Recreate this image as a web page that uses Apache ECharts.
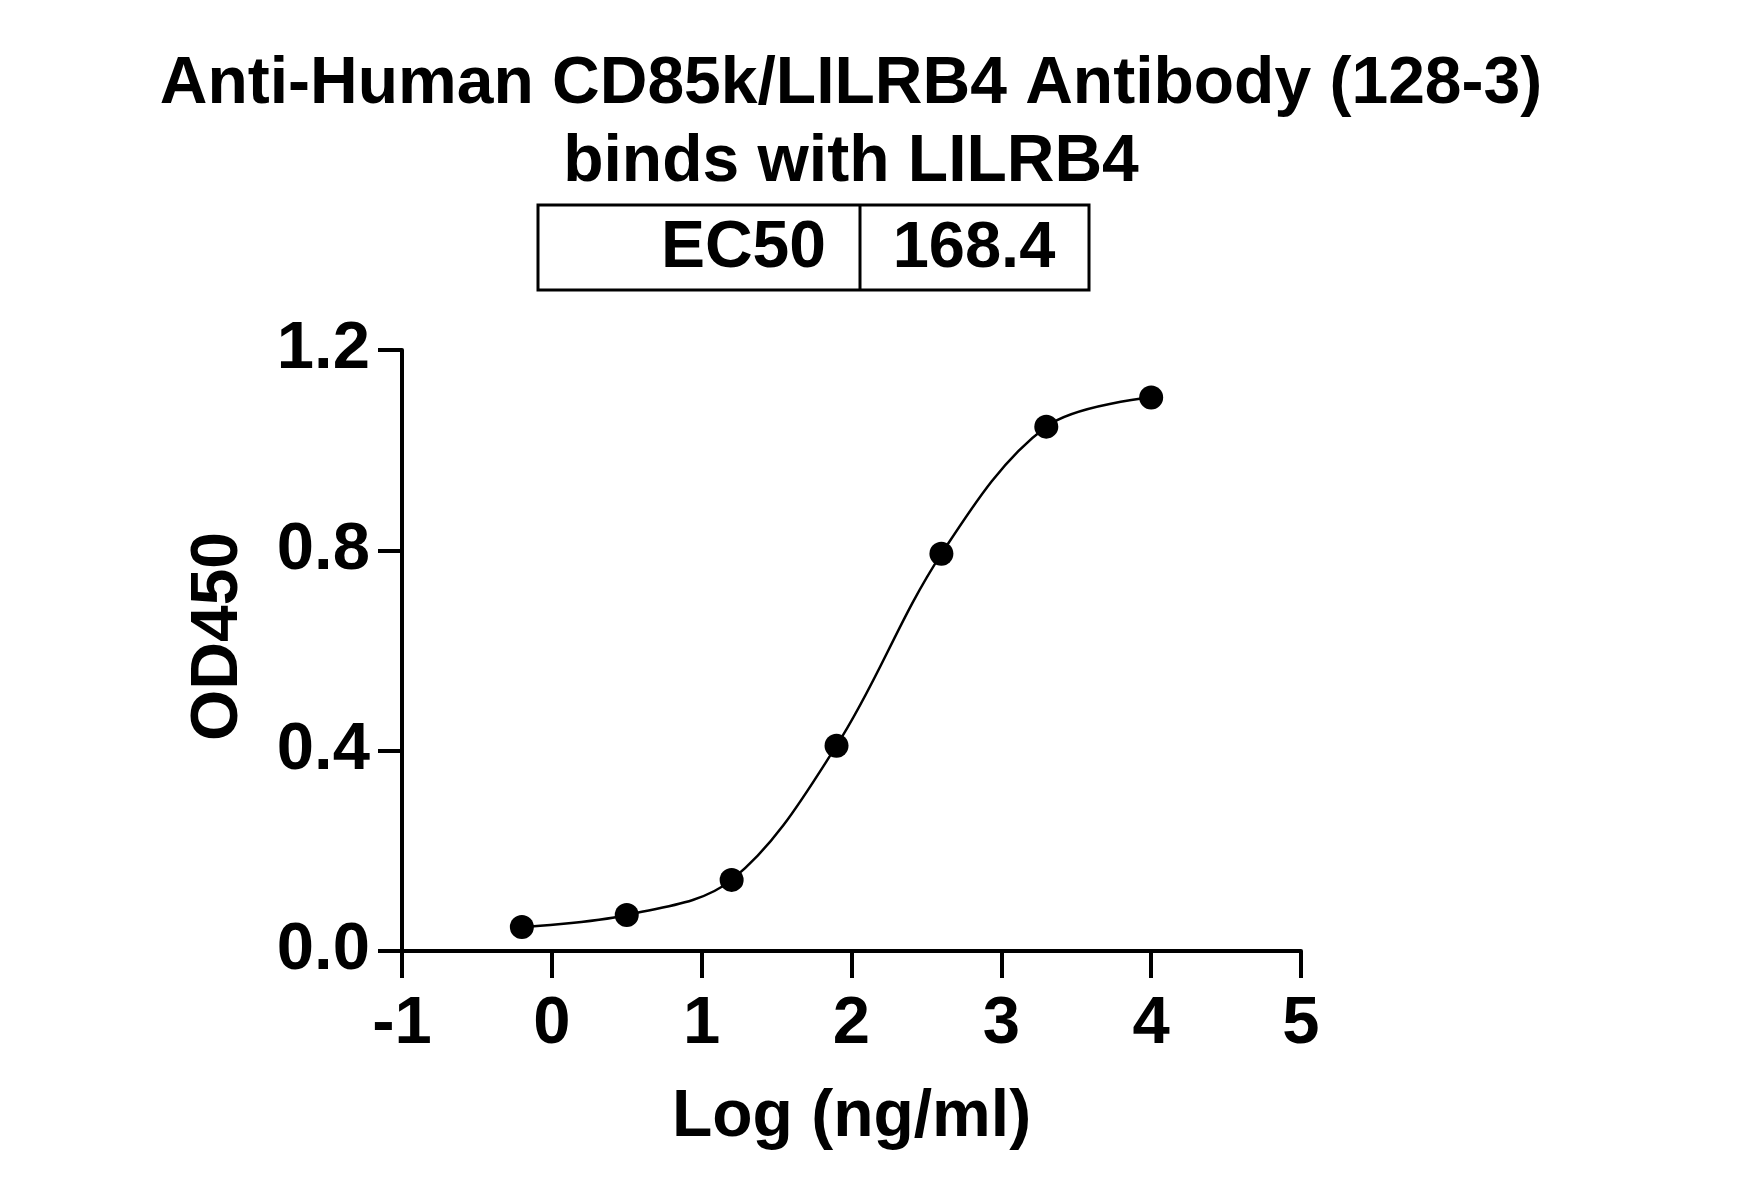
<!DOCTYPE html>
<html>
<head>
<meta charset="utf-8">
<script src="https://cdn.jsdelivr.net/npm/echarts@6/dist/echarts.min.js"></script>
<style>
html,body{margin:0;padding:0;background:#fff;}
#chart{width:1745px;height:1197px;}
</style>
</head>
<body>
<div id="chart"></div>
<script>
// ---- data ----
const titleLine1 = 'Anti-Human CD85k/LILRB4 Antibody (128-3)';
const titleLine2 = 'binds with LILRB4';
const ec50Label = 'EC50';
const ec50Value = '168.4';
const xAxisName = 'Log (ng/ml)';
const yAxisName = 'OD450';
const logConc = [-0.2, 0.5, 1.2, 1.9, 2.6, 3.3, 4.0];
const od450 = [0.048, 0.072, 0.142, 0.41, 0.793, 1.047, 1.105];
const xTicks = { min: -1, max: 5, interval: 1 };
const yTicks = { min: 0, max: 1.2, interval: 0.4 };

const points = logConc.map((x, i) => [x, od450[i]]);
const FONT = '"Liberation Sans", Arial, sans-serif';

const chart = echarts.init(document.getElementById('chart'), null, { renderer: 'canvas' });
chart.setOption({
  backgroundColor: '#ffffff',
  animation: false,
  grid: { left: 402, right: 444, top: 350, bottom: 246, containLabel: false },
  xAxis: {
    type: 'value', min: xTicks.min, max: xTicks.max, interval: xTicks.interval,
    name: xAxisName, nameLocation: 'middle', nameGap: 134,
    nameTextStyle: { fontFamily: FONT, fontWeight: 'bold', fontSize: 66, color: '#000' },
    axisLine: { show: true, onZero: false, lineStyle: { color: '#000', width: 4 } },
    axisTick: { show: true, length: 27, lineStyle: { color: '#000', width: 4 } },
    axisLabel: { fontFamily: FONT, fontWeight: 'bold', fontSize: 67, color: '#000', margin: 40 },
    splitLine: { show: false }
  },
  yAxis: {
    type: 'value', min: yTicks.min, max: yTicks.max, interval: yTicks.interval,
    name: yAxisName, nameLocation: 'middle', nameGap: 150,
    nameTextStyle: { fontFamily: FONT, fontWeight: 'bold', fontSize: 66, color: '#000', padding: [0, 0, 0, 28] },
    axisLine: { show: true, onZero: false, lineStyle: { color: '#000', width: 4 } },
    axisTick: { show: true, length: 24, lineStyle: { color: '#000', width: 4 } },
    axisLabel: { fontFamily: FONT, fontWeight: 'bold', fontSize: 67, color: '#000', margin: 32,
      formatter: v => v.toFixed(1) },
    splitLine: { show: false }
  },
  series: [{
    type: 'line',
    data: points,
    smooth: 0.35,
    symbol: 'circle',
    symbolSize: 24,
    itemStyle: { color: '#000' },
    lineStyle: { color: '#000', width: 2.5 },
    z: 3
  }],
  graphic: [
    { type: 'text', x: 851, y: 85, style: { text: titleLine1, fontFamily: FONT, fontWeight: 'bold', fontSize: 66, fill: '#000', align: 'center', verticalAlign: 'middle' } },
    { type: 'text', x: 851, y: 163, style: { text: titleLine2, fontFamily: FONT, fontWeight: 'bold', fontSize: 66, fill: '#000', align: 'center', verticalAlign: 'middle' } },
    { type: 'rect', shape: { x: 538, y: 205, width: 551, height: 85 }, style: { fill: 'none', stroke: '#000', lineWidth: 3 } },
    { type: 'line', shape: { x1: 860, y1: 205, x2: 860, y2: 290 }, style: { stroke: '#000', lineWidth: 3 } },
    { type: 'text', x: 826, y: 249, style: { text: ec50Label, fontFamily: FONT, fontWeight: 'bold', fontSize: 66, fill: '#000', align: 'right', verticalAlign: 'middle' } },
    { type: 'text', x: 974, y: 249, style: { text: ec50Value, fontFamily: FONT, fontWeight: 'bold', fontSize: 65, fill: '#000', align: 'center', verticalAlign: 'middle' } }
  ]
});
</script>
</body>
</html>
